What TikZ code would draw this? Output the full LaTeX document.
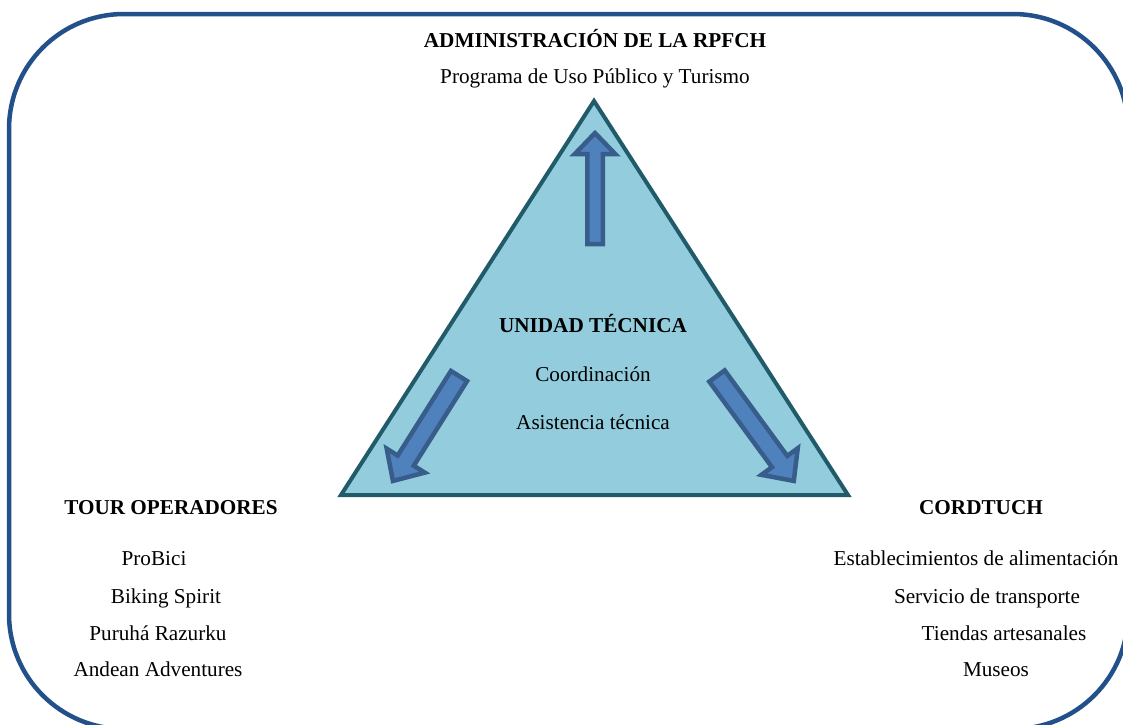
\documentclass[tikz,border=0pt]{standalone}
\usepackage{fontspec}
\setmainfont{Liberation Serif}
\definecolor{framecol}{HTML}{21508A}
\definecolor{trifill}{HTML}{93CDDD}
\definecolor{triline}{HTML}{215A68}
\definecolor{arrfill}{HTML}{4F81BD}
\definecolor{arrline}{HTML}{385D8A}
\tikzset{
  frame/.style={draw=framecol, line width=4.5pt, rounded corners=115pt},
  tri/.style={draw=triline, fill=trifill, line width=4pt, line join=miter},
  barrowstyle/.style={draw=arrline, fill=arrfill, line width=4.5pt, line join=miter},
  txt/.style={font=\fontsize{21.2}{25}\selectfont, inner sep=0pt, anchor=base},
  btxt/.style={txt, font=\fontsize{21.2}{25}\selectfont\bfseries}
}
\newcommand{\bkarrow}[7]{%
  \begin{scope}[shift={(#1,#2)},rotate=#3]
    \draw[barrowstyle] (0,-#5) -- ({#4-#6},-#5) -- ({#4-#6},-#7) -- (#4,0)
      -- ({#4-#6},#7) -- ({#4-#6},#5) -- (0,#5) -- cycle;
  \end{scope}}
\begin{document}
\begin{tikzpicture}[x=1pt,y=1pt]
\useasboundingbox (0,0) rectangle (1123,-724);
\clip (0,0) rectangle (1123,-724);
% outer frame
\draw[frame] (9,-14) rectangle (1128,-729);
% triangle
\coordinate (apex) at (594,-101);
\coordinate (bl) at (341,-495);
\coordinate (br) at (848,-495);
\draw[tri] (apex) -- (bl) -- (br) -- cycle;
% block arrows
\bkarrow{595}{-244}{90}{111}{7.75}{21}{20.25}
\bkarrow{459}{-376}{237.8}{124}{9.5}{24}{22.5}
\bkarrow{717}{-376}{-53.8}{130}{9.5}{24}{22.5}
% texts
\node[btxt] (adm) at (595,-47) {ADMINISTRACIÓN DE LA RPFCH};
\node[txt] (prog) at (595,-83) {Programa de Uso Público y Turismo};
\node[btxt] (ut) at (593,-332) {UNIDAD TÉCNICA};
\node[txt] (coord) at (593,-381) {Coordinación};
\node[txt] (asis) at (593,-429) {Asistencia técnica};
\node[btxt] (tour) at (171,-514) {TOUR OPERADORES};
\node[txt] (t1) at (154,-565) {ProBici};
\node[txt] (t2) at (166,-603) {Biking Spirit};
\node[txt] (t3) at (158,-640) {Puruhá Razurku};
\node[txt] (t4) at (158,-676) {Andean Adventures};
\node[btxt] (cord) at (981,-514) {CORDTUCH};
\node[txt] (c1) at (976,-565) {Establecimientos de alimentación};
\node[txt] (c2) at (987,-603) {Servicio de transporte};
\node[txt] (c3) at (1004,-640) {Tiendas artesanales};
\node[txt] (c4) at (996,-676) {Museos};
\end{tikzpicture}
\end{document}
